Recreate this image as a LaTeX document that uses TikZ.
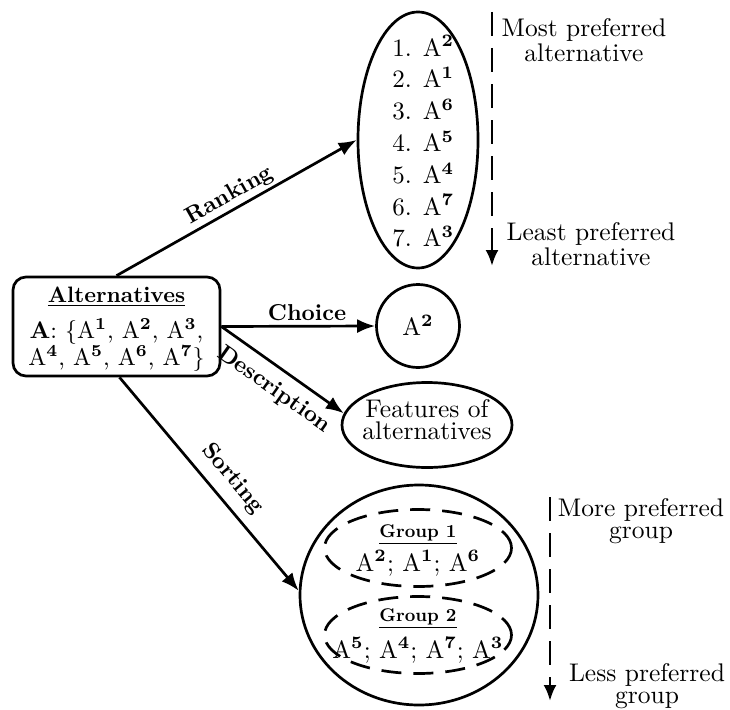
\documentclass[tikz,border=0pt]{standalone}
\usepackage{fontspec}
\usetikzlibrary{arrows.meta,shapes.geometric}
\newcommand{\Asup}[1]{A\textsuperscript{\textbf{#1}}}
\begin{document}
\begin{tikzpicture}[x=1pt,y=-1pt,
  line width=2.7pt,
  arr/.style={-{Latex[length=18pt,width=14pt]}},
  darr/.style={dash pattern=on 24pt off 12pt,-{Latex[length=16pt,width=13pt]}},
  lbl/.style={font=\fontsize{10}{12}\selectfont\bfseries, scale=2.3, inner sep=1.2pt},
  txt/.style={font=\fontsize{10}{8.6}\selectfont, scale=2.55, align=center, inner sep=0pt},
  row/.style={font=\fontsize{10}{12}\selectfont, scale=2.5, inner sep=0pt},
  boxt/.style={font=\fontsize{10}{12}\selectfont, scale=2.4, inner sep=0pt},
  grp/.style={font=\fontsize{10}{12}\selectfont\bfseries, scale=1.84, inner sep=0pt},
  shp/.style={draw, inner sep=0pt},
  grpshape/.style={shp, ellipse, dash pattern=on 20pt off 12pt, minimum width=187pt, minimum height=77pt},
]
\useasboundingbox (0,0) rectangle (730,709);

% Alternatives box
\node[shp, rounded corners=13pt, minimum width=207pt, minimum height=99pt] (alt) at (116.5,326.5) {};
\node[font=\fontsize{10}{12}\selectfont\bfseries, scale=2.23, inner sep=0pt, anchor=base] (altt) at (116.5,302) {\underline{Alternatives}};
\node[boxt, anchor=base] (alt1) at (116.5,338) {\textbf{A}: \{\Asup1, \Asup2, \Asup3,};
\node[boxt, anchor=base] (alt2) at (116.5,365) {\Asup4, \Asup5, \Asup6, \Asup7\}};

% Ranking
\node[shp, ellipse, minimum width=120pt, minimum height=256pt] (rank) at (418,140) {};
\foreach \s [count=\k] in {2,1,6,5,4,7,3}
  \node[row, anchor=base west] (r\k) at (389,{56+31.8*(\k-1)}) {\k. \Asup{\s}};

\coordinate (d1s) at (492,12);
\coordinate (d1e) at (492,266);
\draw[darr] (d1s) -- (d1e);
\node[txt] (mp) at (584,40) {Most preferred\\alternative};
\node[txt] (lp) at (591,244) {Least preferred\\alternative};

% Choice
\node[shp, circle, minimum size=83pt] (choice) at (418,326) {};
\node[row] (ch) at (418,325) {\Asup2};

% Description
\node[shp, ellipse, minimum width=170pt, minimum height=85pt] (feat) at (427,425) {};
\node[txt] (ft) at (427,420) {Features of\\alternatives};

% Sorting
\node[shp, ellipse, minimum width=238pt, minimum height=220pt] (sort) at (419,595) {};
\node[grpshape] (g1) at (418,548) {};
\node[grpshape] (g2) at (418,635) {};
\node[grp, anchor=base] (g1t) at (418,537) {\underline{Group 1}};
\node[row, anchor=base] (g1r) at (418,571) {\Asup2; \Asup1; \Asup6};
\node[grp, anchor=base] (g2t) at (418,621) {\underline{Group 2}};
\node[row, anchor=base] (g2r) at (418,658) {\Asup5; \Asup4; \Asup7; \Asup3};

\coordinate (d2s) at (550,497);
\coordinate (d2e) at (550,701);
\draw[darr] (d2s) -- (d2e);
\node[txt] (mg) at (641,521) {More preferred\\group};
\node[txt] (lg) at (647,686) {Less preferred\\group};

% Connectors
\draw[arr] (alt.north) -- node[lbl, sloped, above, pos=0.5, inner sep=0.3pt] (lr) {Ranking} (rank.west);
\draw[arr] (alt.east) -- node[lbl, above, pos=0.557] (lc) {Choice} (choice.west);
\draw[arr] (alt.east) -- node[lbl, sloped, below, pos=0.53, inner sep=3.5pt] (ld) {Description} (feat.172);
\draw[arr] ([xshift=3pt]alt.south) -- node[lbl, sloped, above, pos=0.54, inner sep=3.5pt] (ls) {Sorting} (sort.178);
\end{tikzpicture}
\end{document}
